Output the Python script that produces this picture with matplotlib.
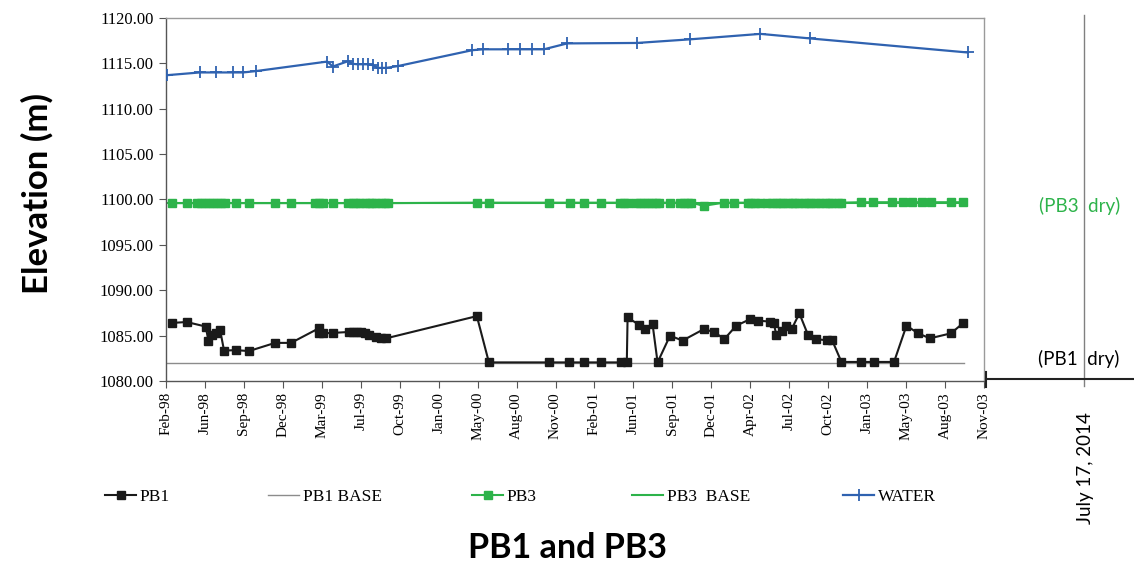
import numpy as np
import matplotlib
matplotlib.use('Agg')
import matplotlib.pyplot as plt
import matplotlib.dates as mdates
from matplotlib.lines import Line2D

# ---------------- data ----------------
pb1_dates = ['1998-03-10', '1998-04-16', '1998-06-04', '1998-06-11', '1998-06-21', '1998-07-01',
             '1998-07-11', '1998-07-21', '1998-08-20', '1998-09-23', '1998-11-29', '1999-01-09',
             '1999-03-21', '1999-03-23', '1999-03-31', '1999-04-26', '1999-06-06', '1999-06-16',
             '1999-06-27', '1999-07-08', '1999-07-19', '1999-07-29', '1999-08-16', '1999-08-28',
             '1999-09-10', '2000-04-30', '2000-05-31', '2000-11-02', '2000-12-23', '2001-01-31',
             '2001-03-15', '2001-05-05', '2001-05-20', '2001-05-22', '2001-06-20', '2001-07-06',
             '2001-07-25', '2001-08-07', '2001-09-08', '2001-10-10', '2001-12-03', '2001-12-31',
             '2002-01-25', '2002-02-25', '2002-04-01', '2002-04-21', '2002-05-22', '2002-06-01',
             '2002-06-08', '2002-06-23', '2002-07-03', '2002-07-17', '2002-08-06', '2002-08-28',
             '2002-09-18', '2002-10-15', '2002-10-29', '2002-11-22', '2003-01-10', '2003-02-13',
             '2003-04-06', '2003-05-08', '2003-06-07', '2003-07-07', '2003-08-30', '2003-10-01']
pb1_elev = [1086.4, 1086.5, 1086.0, 1084.4, 1085.1, 1085.25,
            1085.6, 1083.35, 1083.4, 1083.3, 1084.2, 1084.2,
            1085.8, 1085.3, 1085.25, 1085.3, 1085.4, 1085.4,
            1085.4, 1085.35, 1085.25, 1085.1, 1084.8, 1084.7,
            1084.7, 1087.15, 1082.05, 1082.05, 1082.05, 1082.05,
            1082.05, 1082.05, 1082.05, 1087.0, 1086.2, 1085.7,
            1086.3, 1082.05, 1085.0, 1084.45, 1085.7, 1085.4,
            1084.6, 1086.1, 1086.8, 1086.65, 1086.55, 1086.35,
            1085.1, 1085.5, 1086.1, 1085.7, 1087.45, 1085.1,
            1084.6, 1084.5, 1084.5, 1082.1, 1082.1, 1082.1,
            1082.1, 1086.1, 1085.25, 1084.7, 1085.25, 1086.4]

pb3_dates = ['1998-03-10', '1998-04-16', '1998-05-13', '1998-05-23', '1998-06-02', '1998-06-13',
             '1998-06-23', '1998-07-03', '1998-07-14', '1998-07-24', '1998-08-20', '1998-09-24',
             '1998-11-29', '1999-01-09', '1999-03-12', '1999-03-23', '1999-04-02', '1999-04-26',
             '1999-06-05', '1999-06-16', '1999-06-26', '1999-07-06', '1999-07-17', '1999-07-27',
             '1999-08-06', '1999-08-16', '1999-08-27', '1999-09-06', '1999-09-14',
             '2000-05-01', '2000-05-31', '2000-11-01', '2000-12-25',
             '2001-01-30', '2001-03-14', '2001-05-03', '2001-05-13', '2001-05-23', '2001-06-13',
             '2001-06-23', '2001-07-04', '2001-07-14', '2001-07-24', '2001-08-03', '2001-08-11',
             '2001-09-08', '2001-10-04', '2001-10-14', '2001-10-25', '2001-11-02', '2001-12-03',
             '2002-01-24', '2002-02-18', '2002-03-26', '2002-04-05', '2002-04-15', '2002-04-26',
             '2002-05-16', '2002-05-27', '2002-06-06', '2002-06-16', '2002-06-26', '2002-07-07',
             '2002-07-17', '2002-07-27', '2002-08-06', '2002-08-17', '2002-08-27', '2002-09-06',
             '2002-09-17', '2002-09-27', '2002-10-10', '2002-10-20', '2002-10-30', '2002-11-12',
             '2002-11-22',
             '2003-01-10', '2003-02-10', '2003-04-02', '2003-04-28', '2003-05-23', '2003-06-18',
             '2003-07-10', '2003-08-30', '2003-09-29']
pb3_elev = [1099.6, 1099.6, 1099.6, 1099.6, 1099.6, 1099.6,
            1099.6, 1099.6, 1099.6, 1099.6, 1099.6, 1099.6,
            1099.6, 1099.6, 1099.6, 1099.6, 1099.6, 1099.6,
            1099.6, 1099.6, 1099.6, 1099.6, 1099.6, 1099.6,
            1099.6, 1099.6, 1099.6, 1099.6, 1099.6,
            1099.65, 1099.65, 1099.65, 1099.65,
            1099.65, 1099.65, 1099.65, 1099.65, 1099.65, 1099.65,
            1099.65, 1099.65, 1099.65, 1099.65, 1099.65, 1099.65,
            1099.65, 1099.65, 1099.65, 1099.65, 1099.65, 1099.3,
            1099.65, 1099.65, 1099.65, 1099.65, 1099.65, 1099.65,
            1099.65, 1099.65, 1099.65, 1099.65, 1099.65, 1099.65,
            1099.65, 1099.65, 1099.65, 1099.65, 1099.65, 1099.65,
            1099.65, 1099.65, 1099.65, 1099.65, 1099.65, 1099.65,
            1099.65,
            1099.7, 1099.7, 1099.7, 1099.7, 1099.7, 1099.7,
            1099.7, 1099.7, 1099.7]

water_dates = ['1998-02-25', '1998-05-20', '1998-07-01', '1998-08-13', '1998-09-08', '1998-10-11',
               '1999-04-12', '1999-04-26', '1999-06-05', '1999-06-16', '1999-06-29', '1999-07-12',
               '1999-07-25', '1999-08-07', '1999-08-20', '1999-08-31', '1999-09-10', '1999-10-10',
               '2000-04-18', '2000-05-16', '2000-07-19', '2000-08-18', '2000-09-18', '2000-10-19',
               '2000-12-18', '2001-06-15', '2001-10-30', '2002-04-28', '2002-09-02', '2003-10-12']
water_elev = [1113.7, 1114.0, 1114.0, 1114.0, 1114.0, 1114.15,
              1115.2, 1114.65, 1115.25, 1114.95, 1114.9, 1114.9,
              1114.9, 1114.8, 1114.5, 1114.5, 1114.5, 1114.7,
              1116.45, 1116.55, 1116.55, 1116.55, 1116.55, 1116.55,
              1117.2, 1117.25, 1117.65, 1118.25, 1117.75, 1116.2]

base_dates = ['1998-02-22', '2003-10-02']
pb1_base = [1082.0, 1082.0]
pb3_base = [1099.6, 1099.6]

x_start = '1998-02-22'
x_step_days = 100
x_n_steps = 21
y_ticks = [1080, 1085, 1090, 1095, 1100, 1105, 1110, 1115, 1120]

# ---------------- figure ----------------
W, H = 1134, 568
fig = plt.figure(figsize=(W / 100, H / 100), dpi=100)

def fx(px):
    return px / W

def fy(py):
    return 1 - py / H

ax = fig.add_axes([fx(166), fy(381), fx(984) - fx(166), fy(18) - fy(381)])

def to_num(ds):
    return mdates.date2num([np.datetime64(d) for d in ds])

serif = 'Liberation Serif'
sans = 'Lato'

c_black = '#1a1a1a'
c_gray = '#8c8c8c'
c_green = '#2db34a'
c_blue = '#2f62b0'

l_pb1, = ax.plot(to_num(pb1_dates), pb1_elev, color=c_black, lw=1.5, marker='s',
                 ms=6, mfc=c_black, mec=c_black, label='PB1', zorder=4)
l_pb1b, = ax.plot(to_num(base_dates), pb1_base, color=c_gray, lw=1.0, label='PB1 BASE', zorder=2)
l_pb3b, = ax.plot(to_num(base_dates), pb3_base, color=c_green, lw=1.5, label='PB3  BASE', zorder=2)
l_pb3, = ax.plot(to_num(pb3_dates), pb3_elev, color=c_green, lw=1.5, marker='s',
                 ms=6, mfc=c_green, mec=c_green, label='PB3', zorder=3)
l_wat, = ax.plot(to_num(water_dates), water_elev, color=c_blue, lw=1.6, marker='+',
                 ms=8, mew=1.3, label='WATER', zorder=4)

x0 = mdates.date2num(np.datetime64(x_start))
ticks = x0 + np.arange(x_n_steps + 1) * x_step_days
ax.set_xlim(ticks[0], ticks[-1])
ax.set_xticks(ticks)
ax.xaxis.set_major_formatter(mdates.DateFormatter('%b-%y'))
ax.set_ylim(1080, 1120)
ax.set_yticks(y_ticks)
ax.set_yticklabels(['%.2f' % v for v in y_ticks])

for lab in ax.get_xticklabels():
    lab.set_rotation(90)
    lab.set_fontfamily(serif)
    lab.set_fontsize(11)
for lab in ax.get_yticklabels():
    lab.set_fontfamily(serif)
    lab.set_fontsize(12)
ax.tick_params(axis='x', length=5, width=0.8, color='#555555', pad=3)
ax.tick_params(axis='y', length=5, width=0.8, color='#555555', pad=4)

ax.spines['left'].set_color('#555555')
ax.spines['bottom'].set_color('#555555')
ax.spines['top'].set_color('#9a9a9a')
ax.spines['right'].set_color('#9a9a9a')
for s in ax.spines.values():
    s.set_linewidth(1.0)

# legend entries placed individually
entries = [(l_pb1, 105), (l_pb1b, 268), (l_pb3, 472), (l_pb3b, 632), (l_wat, 843)]
for h, px in entries:
    fig.legend([h], [h.get_label()], loc='center left',
               bbox_to_anchor=(fx(px), fy(497)), frameon=False,
               prop={'family': serif, 'size': 12.5}, handlelength=1.8,
               handletextpad=0.2, borderpad=0, borderaxespad=0)

# axis titles
fig.text(fx(37), fy(194), 'Elevation (m)', rotation=90, ha='center', va='center',
         fontsize=25, fontweight='bold', family=sans)
fig.text(fx(568), fy(548), 'PB1 and PB3', ha='center', va='center',
         fontsize=24.5, fontweight='bold', family=sans)

# right-side annotations
fig.add_artist(Line2D([fx(1084), fx(1084)], [fy(15), fy(386)], transform=fig.transFigure,
                      color='#808080', lw=1.0))
fig.add_artist(Line2D([fx(986), fx(1134)], [fy(379), fy(379)], transform=fig.transFigure,
                      color='#222222', lw=1.5))
fig.add_artist(Line2D([fx(986), fx(986)], [fy(372), fy(387)], transform=fig.transFigure,
                      color='#222222', lw=1.5))
fig.text(fx(1080), fy(206), '(PB3  dry)', ha='center', va='center', color=c_green,
         fontsize=13.5, family=sans)
fig.text(fx(1079), fy(359), '(PB1  dry)', ha='center', va='center', color='black',
         fontsize=13.5, family=sans)
fig.text(fx(1086), fy(468), 'July 17, 2014', rotation=90, ha='center', va='center',
         color='black', fontsize=13.5, family=sans)

fig.savefig('out.png', dpi=100)
